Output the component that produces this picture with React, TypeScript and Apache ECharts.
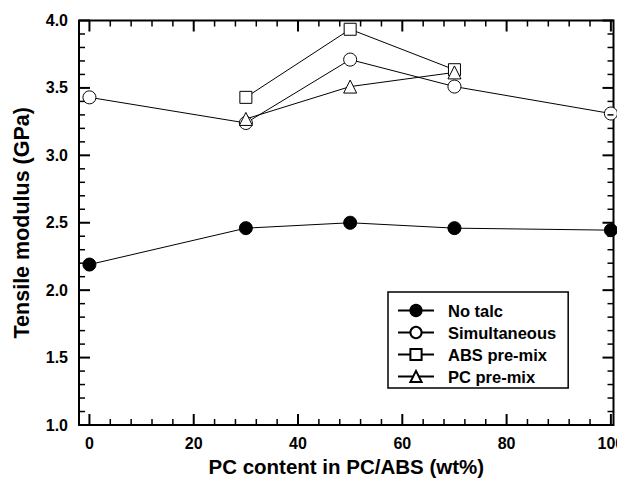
import React, { useEffect, useRef } from "react";
import * as echarts from "echarts";

const xValuesAll = [0, 30, 50, 70, 100];
const noTalc = [2.19, 2.46, 2.5, 2.46, 2.445];
const simultaneous = [3.43, 3.24, 3.71, 3.51, 3.31];
const xValuesPremix = [30, 50, 70];
const absPremix = [3.43, 3.935, 3.635];
const pcPremix = [3.27, 3.51, 3.615];

const seriesNames = ["No talc", "Simultaneous", "ABS pre-mix", "PC pre-mix"];

const xMajorTicks = [0, 20, 40, 60, 80, 100];
const xMinorTicks = [4, 8, 12, 16, 24, 28, 32, 36, 44, 48, 52, 56, 64, 68, 72, 76, 84, 88, 92, 96];
const yMajorTicks = [1.0, 1.5, 2.0, 2.5, 3.0, 3.5, 4.0];
const yMinorTicks = [1.1, 1.2, 1.3, 1.4, 1.6, 1.7, 1.8, 1.9, 2.1, 2.2, 2.3, 2.4, 2.6, 2.7, 2.8, 2.9, 3.1, 3.2, 3.3, 3.4, 3.6, 3.7, 3.8, 3.9];

const FONT = "'Liberation Sans', Arial, sans-serif";

function buildOption() {
  const pair = (xs: number[], ys: number[]) => xs.map((x, i) => [x, ys[i]]);
  const ls = { color: "#000", fontFamily: FONT, fontWeight: "bold", fontSize: 16 };
  const ser = (name: string, data: number[][], symbol: string, fill: string, size: number) => ({
    name,
    type: "line",
    data,
    symbol,
    symbolSize: size,
    z: 3,
    lineStyle: { color: "#000", width: 1 },
    itemStyle: { color: fill, borderColor: "#000", borderWidth: 1 },
  });
  const xTickSeries = (values: number[], len: number, width: number) => ({
    type: "custom",
    silent: true,
    z: 4,
    data: values.map((v) => [v, 2.5]),
    renderItem: (params: any, api: any) => {
      const cs = params.coordSys;
      const px = api.coord([api.value(0), 2.5])[0];
      const top = cs.y;
      const bottom = cs.y + cs.height;
      const st = { stroke: "#000", lineWidth: width };
      return {
        type: "group",
        children: [
          { type: "line", shape: { x1: px, y1: bottom, x2: px, y2: bottom - len }, style: st },
          { type: "line", shape: { x1: px, y1: top, x2: px, y2: top + len }, style: st },
        ],
      };
    },
  });
  const yTickSeries = (values: number[], len: number, width: number) => ({
    type: "custom",
    silent: true,
    z: 4,
    data: values.map((v) => [50, v]),
    renderItem: (params: any, api: any) => {
      const cs = params.coordSys;
      const py = api.coord([50, api.value(1)])[1];
      const left = cs.x;
      const right = cs.x + cs.width;
      const st = { stroke: "#000", lineWidth: width };
      return {
        type: "group",
        children: [
          { type: "line", shape: { x1: left, y1: py, x2: left + len, y2: py }, style: st },
          { type: "line", shape: { x1: right, y1: py, x2: right - len, y2: py }, style: st },
        ],
      };
    },
  });
  return {
    animation: false,
    grid: {
      left: 71,
      right: 11.5,
      top: 12.5,
      bottom: 56,
      outerBoundsMode: "none",
      show: true,
      borderColor: "#000",
      borderWidth: 2,
      backgroundColor: "transparent",
    },
    legend: {
      data: seriesNames,
      orient: "vertical",
      left: 380,
      top: 284,
      borderColor: "#000",
      borderWidth: 1.5,
      padding: [10, 12, 3, 9],
      itemWidth: 36,
      itemHeight: 14,
      itemGap: 5,
      textStyle: { ...ls, fontSize: 16.5, padding: [0, 0, 0, 9] },
    },
    xAxis: {
      type: "value",
      min: -2,
      max: 100.5,
      axisLine: { show: false },
      axisTick: { show: false },
      splitLine: { show: false },
      axisLabel: { ...ls, margin: 10, customValues: xMajorTicks },
      name: "PC content in PC/ABS (wt%)",
      nameLocation: "middle",
      nameGap: 30,
      nameTextStyle: { ...ls, fontSize: 20.5 },
    },
    yAxis: {
      type: "value",
      min: 1.0,
      max: 4.0,
      interval: 0.5,
      axisLine: { show: false },
      axisTick: { show: false },
      splitLine: { show: false },
      axisLabel: { ...ls, margin: 11, formatter: (v: number) => v.toFixed(1) },
      name: "Tensile modulus (GPa)",
      nameLocation: "middle",
      nameGap: 46,
      nameTextStyle: { ...ls, fontSize: 21.5 },
    },
    series: [
      xTickSeries(xMajorTicks, 11, 2),
      xTickSeries(xMinorTicks, 6, 1.5),
      yTickSeries(yMajorTicks, 11, 2),
      yTickSeries(yMinorTicks, 6, 1.5),
      ser(seriesNames[0], pair(xValuesAll, noTalc), "circle", "#000", 13),
      ser(seriesNames[1], pair(xValuesAll, simultaneous), "circle", "#fff", 13),
      ser(seriesNames[2], pair(xValuesPremix, absPremix), "rect", "#fff", 12),
      ser(seriesNames[3], pair(xValuesPremix, pcPremix), "triangle", "#fff", 13),
    ],
  };
}

function Chart() {
  const ref = useRef<HTMLDivElement>(null);
  useEffect(() => {
    if (!ref.current) return;
    const chart = echarts.init(ref.current, undefined, { renderer: "svg" });
    chart.setOption(buildOption() as any);
    return () => chart.dispose();
  }, []);
  return <div ref={ref} style={{ width: 617, height: 473 }} />;
}

export default function App() {
  return <Chart />;
}
